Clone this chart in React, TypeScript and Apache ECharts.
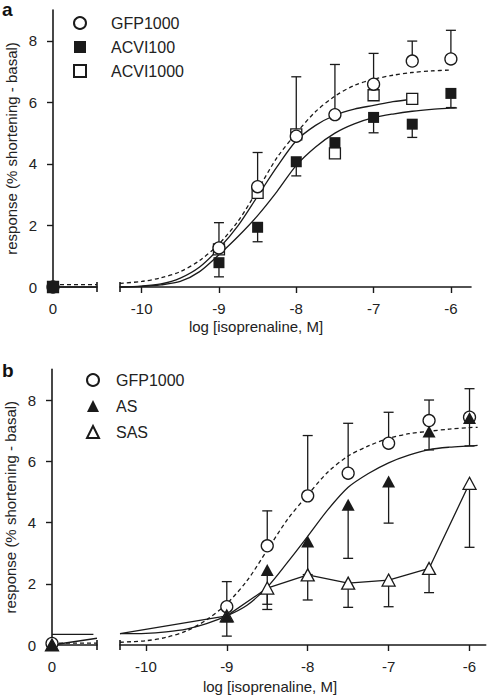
import React, { useEffect, useRef } from "react";
import * as echarts from "echarts";

// ---------- data ----------
const logTicks = [-10, -9, -8, -7, -6];
const basalTicks = [0];
const yTicks = [0, 2, 4, 6, 8];
const doses = [-9, -8.5, -8, -7.5, -7, -6.5, -6];

// panel a
const aGfpBasal = 0;
const aAcvi100Basal = 0;
const aAcvi1000Basal = 0;
const aGfpMean = [1.27, 3.26, 4.9, 5.6, 6.59, 7.34, 7.41];
const aGfpUpper = [2.09, 4.37, 6.83, 7.23, 7.59, 7.99, 8.34];
const aAcvi100Mean = [0.79, 1.94, 4.07, 4.69, 5.51, 5.29, 6.29];
const aAcvi100Lower = [0.33, 1.47, 3.61, null, 5.01, 4.86, 5.83];
const aAcvi1000Doses = [-9, -8.5, -8, -7.5, -7, -6.5];
const aAcvi1000Mean = [1.22, 3.06, 4.96, 4.34, 6.23, 6.11];

const aFitX = [-10.28, -10, -9.75, -9.5, -9.25, -9, -8.75, -8.5, -8.25, -8, -7.75, -7.5, -7.25, -7, -6.75, -6.5, -6.25, -6, -5.92];
const aFitGfp = [0.12, 0.18, 0.3, 0.5, 0.86, 1.4, 2.15, 3.15, 4.2, 5.0, 5.7, 6.2, 6.55, 6.75, 6.88, 6.97, 7.02, 7.05];
const aFitAcvi1000 = [0.0, 0.03, 0.1, 0.29, 0.65, 1.25, 2.0, 2.95, 3.9, 4.75, 5.25, 5.58, 5.78, 5.9, 6.02, 6.1];
const aFitAcvi100 = [0.0, 0.02, 0.07, 0.18, 0.5, 1.05, 1.65, 2.32, 3.1, 3.95, 4.55, 5.0, 5.3, 5.5, 5.62, 5.71, 5.77, 5.81, 5.82];
const aBasalLineX = [0, 1];
const aBasalGfpFit = [0.08, 0.08];
const aBasalAcviFit = [0.0, 0.0];

// panel b
const bGfpBasal = 0.05;
const bAsBasal = 0;
const bSasBasal = 0;
const bGfpMean = [1.25, 3.24, 4.87, 5.61, 6.59, 7.33, 7.44];
const bGfpUpper = [2.07, 4.38, 6.84, 7.24, 7.6, 8.0, 8.37];
const bAsMean = [0.93, 2.45, 3.38, 4.58, 5.34, 6.97, 7.41];
const bAsLower = [0.29, 1.16, 2.3, 2.83, 3.98, 6.37, 6.5];
const bSasMean = [0.95, 1.86, 2.29, 2.02, 2.12, 2.5, 5.28];
const bSasLower = [null, 1.33, 1.47, 1.23, 1.25, 1.71, 3.19];

const bFitX = [-10.32, -10, -9.75, -9.5, -9.25, -9, -8.75, -8.5, -8.25, -8, -7.75, -7.5, -7.25, -7, -6.75, -6.5, -6.25, -6, -5.9];
const bFitGfp = [0.09, 0.14, 0.25, 0.46, 0.82, 1.35, 2.1, 3.1, 4.1, 4.9, 5.65, 6.17, 6.5, 6.75, 6.9, 6.98, 7.05, 7.1, 7.11];
const bFitAs = [0.37, 0.38, 0.43, 0.52, 0.7, 0.95, 1.3, 1.89, 2.7, 3.55, 4.42, 5.15, 5.6, 5.95, 6.2, 6.38, 6.46, 6.5, 6.52];
const bBasalLineX = [0, 1];
const bBasalGfpFit = [0.06, 0.06];
const bBasalAsFitX = [0, 0.92];
const bBasalAsFit = [0.35, 0.35];
const bSasLinkLeftX = [0, 1];
const bSasLinkLeft = [0, 0.22];
const bSasLinkRightX = [-10.32, -9];
const bSasLinkRight = [0.37, 0.95];

// ---------- styling ----------
const FONT = '"Liberation Sans", Arial, Helvetica, sans-serif';
const INK = "#1a1a1a";
const TXT = "#222";

const SYM: Record<string, any> = {
  openCircle: { symbol: "circle", symbolSize: 12, itemStyle: { color: "#fff", borderColor: INK, borderWidth: 1.3, opacity: 1 } },
  filledSquare: { symbol: "rect", symbolSize: 11, itemStyle: { color: INK, borderColor: INK, borderWidth: 0, opacity: 1 } },
  openSquare: { symbol: "rect", symbolSize: 11, itemStyle: { color: "#fff", borderColor: INK, borderWidth: 1.3, opacity: 1 } },
  filledTri: { symbol: "triangle", symbolSize: [13, 12], itemStyle: { color: INK, borderColor: INK, borderWidth: 0, opacity: 1 } },
  openTri: { symbol: "triangle", symbolSize: [13, 12], itemStyle: { color: "#fff", borderColor: INK, borderWidth: 1.3, opacity: 1 } },
};

const pair = (xs: number[], ys: (number | null)[]) =>
  ys.map((y, i) => [xs[i], y]);

function line(name: string, xs: number[], ys: number[], axis: number, dashed: boolean, smooth: number | boolean = 0.3) {
  return {
    type: "line",
    name,
    xAxisIndex: axis,
    yAxisIndex: axis,
    data: pair(xs, ys),
    showSymbol: false,
    symbol: "none",
    smooth,
    clip: false,
    silent: true,
    z: 2,
    lineStyle: { color: INK, width: 1.3, type: dashed ? [4, 3] : "solid", opacity: 1 },
  };
}

function markers(name: string, xs: number[], ys: number[], axis: number, sym: string, z: number) {
  return {
    type: "scatter",
    name,
    xAxisIndex: axis,
    yAxisIndex: axis,
    data: pair(xs, ys),
    clip: false,
    silent: true,
    z,
    ...SYM[sym],
  };
}

function errorBars(name: string, xs: number[], means: number[], ends: (number | null)[], axis: number) {
  const data = xs
    .map((x, i) => (ends[i] == null ? null : [x, means[i], ends[i]]))
    .filter((d) => d !== null);
  return {
    type: "custom",
    name,
    xAxisIndex: axis,
    yAxisIndex: axis,
    data,
    clip: false,
    silent: true,
    z: 3,
    renderItem: (_params: any, api: any) => {
      const p0 = api.coord([api.value(0), api.value(1)]);
      const p1 = api.coord([api.value(0), api.value(2)]);
      const half = 5;
      const style = { stroke: INK, lineWidth: 1.3 };
      return {
        type: "group",
        children: [
          { type: "line", shape: { x1: p0[0], y1: p0[1], x2: p1[0], y2: p1[1] }, style },
          { type: "line", shape: { x1: p1[0] - half, y1: p1[1], x2: p1[0] + half, y2: p1[1] }, style },
        ],
      };
    },
  };
}

function breakCap(axis: number, side: "start" | "end", x: number) {
  return {
    type: "custom",
    xAxisIndex: axis,
    yAxisIndex: axis,
    data: [[x, 0]],
    clip: false,
    silent: true,
    z: 5,
    renderItem: (params: any) => {
      const cs = params.coordSys;
      const px = side === "end" ? cs.x + cs.width : cs.x;
      const py = cs.y + cs.height;
      return {
        type: "line",
        shape: { x1: px, y1: py - 5, x2: px, y2: py + 5 },
        style: { stroke: INK, lineWidth: 1.6 },
      };
    },
  };
}

const axisLabelBase = { color: TXT, fontSize: 15, fontFamily: FONT };

function xAxisLeft(grid: number) {
  return {
    type: "value",
    gridIndex: grid,
    min: 0,
    max: 1,
    axisLine: { show: true, onZero: false, lineStyle: { color: INK, width: 1.6 } },
    axisTick: { show: false },
    axisLabel: { ...axisLabelBase, margin: 14, customValues: basalTicks },
    splitLine: { show: false },
  };
}

function xAxisRight(grid: number, min: number, max: number) {
  return {
    type: "value",
    gridIndex: grid,
    min,
    max,
    axisLine: { show: true, onZero: false, lineStyle: { color: INK, width: 1.6 } },
    axisTick: { show: true, length: 6, customValues: logTicks, lineStyle: { color: INK, width: 1.4 } },
    axisLabel: { ...axisLabelBase, margin: 14, customValues: logTicks },
    splitLine: { show: false },
  };
}

function yAxisLeft(grid: number) {
  return {
    type: "value",
    gridIndex: grid,
    min: 0,
    max: 9,
    axisLine: { show: true, onZero: false, lineStyle: { color: INK, width: 1.6 } },
    axisTick: { show: true, length: 6, customValues: yTicks, lineStyle: { color: INK, width: 1.4 } },
    axisLabel: { ...axisLabelBase, margin: 16, customValues: yTicks },
    splitLine: { show: false },
    name: "response (% shortening - basal)",
    nameLocation: "middle",
    nameRotate: 90,
    nameGap: 34,
    nameTextStyle: { color: TXT, fontSize: 15, fontFamily: FONT },
  };
}

function yAxisHidden(grid: number) {
  return { type: "value", gridIndex: grid, min: 0, max: 9, show: false, splitLine: { show: false } };
}

function buildOption() {
  const series: any[] = [
    // ---- panel a, basal (left) ----
    line("a basal GFP fit", aBasalLineX, aBasalGfpFit, 0, true, false),
    line("a basal ACVI fit", aBasalLineX, aBasalAcviFit, 0, false, false),
    markers("GFP1000", [0], [aGfpBasal], 0, "openCircle", 4),
    markers("ACVI1000", [0], [aAcvi1000Basal], 0, "openSquare", 5),
    markers("ACVI100", [0], [aAcvi100Basal], 0, "filledSquare", 6),
    breakCap(0, "end", 1),
    // ---- panel a, log doses (right) ----
    line("a GFP fit", aFitX.slice(0, aFitGfp.length), aFitGfp, 1, true),
    line("a ACVI1000 fit", aFitX.slice(0, aFitAcvi1000.length), aFitAcvi1000, 1, false),
    line("a ACVI100 fit", aFitX.slice(0, aFitAcvi100.length), aFitAcvi100, 1, false),
    errorBars("a GFP err", doses, aGfpMean, aGfpUpper, 1),
    errorBars("a ACVI100 err", doses, aAcvi100Mean, aAcvi100Lower, 1),
    markers("ACVI1000", aAcvi1000Doses, aAcvi1000Mean, 1, "openSquare", 4),
    markers("ACVI100", doses, aAcvi100Mean, 1, "filledSquare", 5),
    markers("GFP1000", doses, aGfpMean, 1, "openCircle", 6),
    breakCap(1, "start", -10.28),
    // ---- panel b, basal (left) ----
    line("b basal GFP fit", bBasalLineX, bBasalGfpFit, 2, true, false),
    line("b basal AS fit", bBasalAsFitX, bBasalAsFit, 2, false, false),
    line("b SAS link left", bSasLinkLeftX, bSasLinkLeft, 2, false, false),
    markers("GFP1000", [0], [bGfpBasal], 2, "openCircle", 4),
    markers("SAS", [0], [bSasBasal], 2, "openTri", 5),
    markers("AS", [0], [bAsBasal], 2, "filledTri", 6),
    breakCap(2, "end", 1),
    // ---- panel b, log doses (right) ----
    line("b GFP fit", bFitX, bFitGfp, 3, true),
    line("b AS fit", bFitX, bFitAs, 3, false),
    line("b SAS link right", bSasLinkRightX, bSasLinkRight, 3, false, false),
    line("b SAS line", doses, bSasMean, 3, false, false),
    errorBars("b GFP err", doses, bGfpMean, bGfpUpper, 3),
    errorBars("b AS err", doses, bAsMean, bAsLower, 3),
    errorBars("b SAS err", doses, bSasMean, bSasLower, 3),
    markers("GFP1000", doses, bGfpMean, 3, "openCircle", 4),
    markers("SAS", doses, bSasMean, 3, "openTri", 5),
    markers("AS", doses, bAsMean, 3, "filledTri", 6),
    breakCap(3, "start", -10.32),
  ];

  const legendBase = {
    orient: "vertical",
    itemWidth: 12,
    itemHeight: 12,
    selectedMode: false,
    textStyle: { fontSize: 16, color: TXT, fontFamily: FONT },
  };

  return {
    animation: false,
    backgroundColor: "#ffffff",
    grid: [
      { left: 53, top: 10, width: 44, height: 277, outerBoundsMode: "none" },
      { left: 120, top: 10, width: 351, height: 277, outerBoundsMode: "none" },
      { left: 52, top: 369.4, width: 45, height: 275.6, outerBoundsMode: "none" },
      { left: 120, top: 369.4, width: 365.7, height: 275.6, outerBoundsMode: "none" },
    ],
    xAxis: [xAxisLeft(0), xAxisRight(1, -10.28, -5.74), xAxisLeft(2), xAxisRight(3, -10.32, -5.8)],
    yAxis: [yAxisLeft(0), yAxisHidden(1), yAxisLeft(2), yAxisHidden(3)],
    legend: [
      {
        ...legendBase,
        data: ["GFP1000", "ACVI100", "ACVI1000"],
        left: 68,
        top: 10,
        itemGap: 8,
        textStyle: { ...legendBase.textStyle, padding: [0, 0, 0, 20] },
      },
      {
        ...legendBase,
        data: ["GFP1000", "AS", "SAS"],
        left: 81,
        top: 367,
        itemGap: 10,
        textStyle: { ...legendBase.textStyle, padding: [0, 0, 0, 12] },
      },
    ],
    graphic: [
      { type: "text", left: 2, top: 0, style: { text: "a", fontSize: 19, fontWeight: "bold", fontFamily: FONT, fill: "#111" } },
      { type: "text", left: 2, top: 361, style: { text: "b", fontSize: 19, fontWeight: "bold", fontFamily: FONT, fill: "#111" } },
      {
        type: "text",
        x: 256,
        y: 326,
        style: { text: "log [isoprenaline, M]", fontSize: 15, fontFamily: FONT, fill: TXT, align: "center", verticalAlign: "middle" },
      },
      {
        type: "text",
        x: 270,
        y: 686,
        style: { text: "log [isoprenaline, M]", fontSize: 15, fontFamily: FONT, fill: TXT, align: "center", verticalAlign: "middle" },
      },
    ],
    series,
  };
}

export default function App() {
  const ref = useRef<HTMLDivElement>(null);
  useEffect(() => {
    if (!ref.current) return;
    const chart = echarts.init(ref.current, null, { renderer: "svg" });
    chart.setOption(buildOption() as any);
    return () => chart.dispose();
  }, []);
  return (
    <div
      ref={ref}
      style={{ position: "absolute", left: 0, top: 0, width: 488, height: 699, background: "#fff" }}
    />
  );
}
